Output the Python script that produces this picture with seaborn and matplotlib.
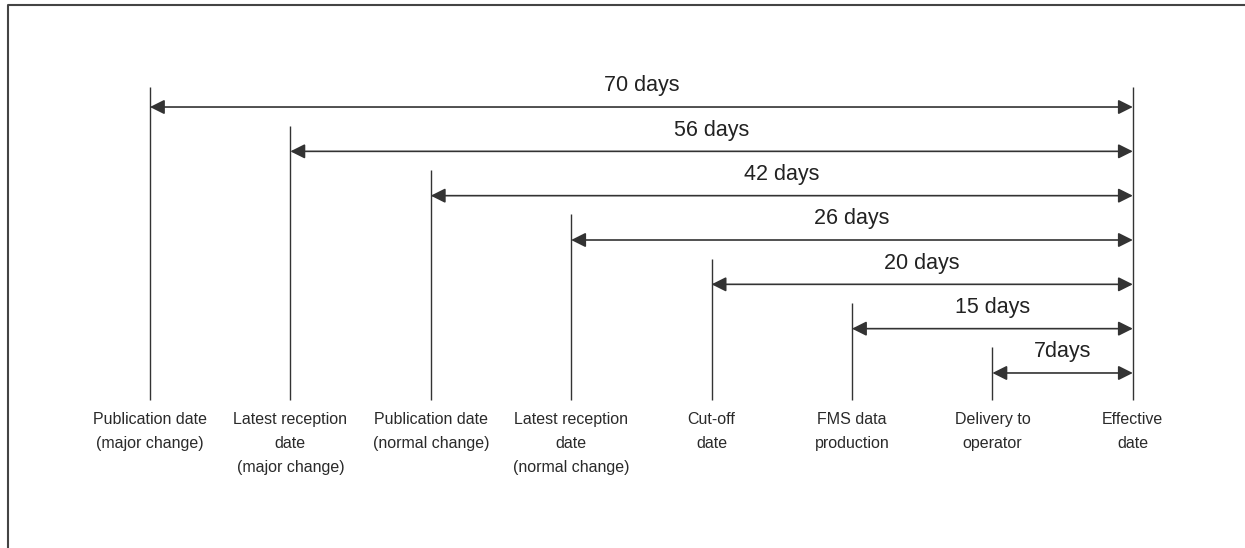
import matplotlib.pyplot as plt
import seaborn as sns

# milestones, left to right (evenly spaced on the diagram)
milestones = [
    "Publication date\n(major change)",
    "Latest reception\ndate\n(major change)",
    "Publication date\n(normal change)",
    "Latest reception\ndate\n(normal change)",
    "Cut-off\ndate",
    "FMS data\nproduction",
    "Delivery to\noperator",
    "Effective\ndate",
]
# span from each milestone to the effective date
span_labels = ["70 days", "56 days", "42 days", "26 days", "20 days", "15 days", "7days"]
span_days = [70, 56, 42, 26, 20, 15, 7]

sns.set_theme(style="white")
plt.rcParams["font.family"] = ["Liberation Sans", "DejaVu Sans"]

W, H = 1245, 548
fig = plt.figure(figsize=(W / 100, H / 100), dpi=100)
ax = fig.add_axes([0, 0, 1, 1])
ax.set_xlim(-1.068, 7.799)
ax.set_ylim(9.948, -2.414)
ax.axis("off")

ink = "#333333"
end = len(milestones) - 1
bottom = 6.61

for i, name in enumerate(milestones):
    row = i if i < end else 0
    top = row - (0.45 if row == 0 else 0.58)
    ax.vlines(i, top, bottom, color=ink, lw=1.0)
    ax.text(i, 6.88, name, ha="center", va="top", fontsize=11.5,
            color="#2a2a2a", linespacing=1.75)

for row, (lab, d) in enumerate(zip(span_labels, span_days)):
    ax.annotate("", xy=(row, row), xytext=(end, row),
                arrowprops=dict(arrowstyle="<|-|>", mutation_scale=22,
                                color=ink, lw=1.2, shrinkA=0, shrinkB=0))
    ax.text((row + end) / 2, row - 0.24, lab, ha="center", va="bottom",
            fontsize=15.5, color="#222222")

# frame (only the top and left edges fall inside the picture)
fx, fy = 8 / W, 1 - 5 / H
ax.plot([fx, fx, 1.0], [0.0, fy, fy], transform=ax.transAxes,
        color="#444444", lw=1.5, clip_on=False)

fig.savefig("out.png", dpi=100)
